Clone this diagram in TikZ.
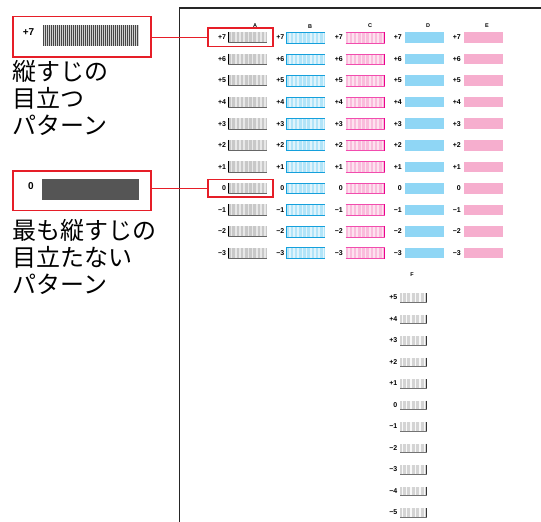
\documentclass[tikz,border=0pt]{standalone}
\usepackage{fontspec}
\newfontfamily\cjk{Noto Sans CJK JP}
\newfontfamily\lab{Liberation Sans}
\definecolor{redbox}{RGB}{230,30,40}
\definecolor{gA}{RGB}{200,200,200}
\definecolor{gAl}{RGB}{232,232,232}
\definecolor{bB}{RGB}{178,228,248}
\definecolor{bBl}{RGB}{224,244,252}
\definecolor{bBe}{RGB}{20,160,220}
\definecolor{pC}{RGB}{250,188,220}
\definecolor{pCl}{RGB}{253,226,239}
\definecolor{pCe}{RGB}{236,0,140}
\definecolor{bD}{RGB}{143,214,245}
\definecolor{pE}{RGB}{246,174,206}
\definecolor{gF}{RGB}{212,212,212}
\definecolor{darkpatch}{RGB}{85,85,85}
\tikzset{
  lbl/.style={font=\lab\bfseries\fontsize{7}{8}\selectfont, inner sep=0pt, anchor=east},
  hdr/.style={font=\lab\bfseries\fontsize{5.5}{6}\selectfont, inner sep=0pt},
  jp/.style={font=\cjk\fontsize{24}{27}\selectfont, inner sep=0pt, anchor=base west},
  hlbox/.style={draw=redbox, line width=1.8pt, inner sep=0pt},
  redline/.style={draw=redbox, line width=1.5pt},
  bigl/.style={font=\lab\bfseries\fontsize{10}{11}\selectfont, inner sep=0pt}
}
\begin{document}
\begin{tikzpicture}[x=1pt,y=-1pt]
\useasboundingbox (0,0) rectangle (541,522);
\fill[white] (0,0) rectangle (541,522);

% sheet frame
\draw[line width=1.5pt, black!85] (541,8) -- (179.5,8) -- (179.5,522);

% column headers
\node[hdr] (hA) at (255,26) {A};
\node[hdr] (hB) at (310,26.5) {B};
\node[hdr] (hC) at (370,26) {C};
\node[hdr] (hD) at (428,26) {D};
\node[hdr] (hE) at (487,26) {E};
\node[hdr] (hF) at (412,275) {F};

% rows A-E
\foreach \t [count=\i from 0] in {+7,+6,+5,+4,+3,+2,+1,0,−1,−2,−3} {
  \pgfmathsetmacro\yy{37.5+\i*21.55}
  % A
  \fill[gA] (228,\yy-5.5) rectangle (266.5,\yy+5.5);
  \foreach \k in {0,...,8} \fill[gAl] ({230.8+\k*4.2},\yy-5.5) rectangle ++(1.6,11);
  \draw[black, line width=1pt] (228.5,\yy-5.5) -- (228.5,\yy+5.5);
  \draw[black!60, line width=0.7pt] (228,\yy+5.2) -- (266.5,\yy+5.2);
  \node[lbl] (la\i) at (226.3,\yy) {\t};
  % B
  \fill[bB] (286,\yy-5.5) rectangle (325,\yy+5.5);
  \foreach \k in {0,...,8} \fill[bBl] ({289+\k*4.2},\yy-5.5) rectangle ++(1.6,11);
  \draw[bBe, line width=0.5pt] (286,\yy-5.3) -- (325,\yy-5.3);
  \draw[bBe, line width=0.5pt] (286,\yy+5.3) -- (325,\yy+5.3);
  \draw[bBe, line width=1.2pt] (286.6,\yy-5.5) -- (286.6,\yy+5.5);
  \node[lbl] (lb\i) at (284.5,\yy) {\t};
  % C
  \fill[pC] (345.5,\yy-5.5) rectangle (385,\yy+5.5);
  \foreach \k in {0,...,8} \fill[pCl] ({348+\k*4.2},\yy-5.5) rectangle ++(1.6,11);
  \draw[pCe!70, line width=0.5pt] (345.5,\yy-5.3) -- (385,\yy-5.3);
  \draw[pCe!70, line width=0.5pt] (345.5,\yy+5.3) -- (385,\yy+5.3);
  \draw[pCe, line width=1.2pt] (384.4,\yy-5.5) -- (384.4,\yy+5.5);
  \node[lbl] (lc\i) at (343,\yy) {\t};
  % D
  \fill[bD] (405,\yy-5.3) rectangle (444,\yy+5.3);
  \node[lbl] (ld\i) at (402,\yy) {\t};
  % E
  \fill[pE] (464,\yy-5.3) rectangle (503,\yy+5.3);
  \node[lbl] (le\i) at (461,\yy) {\t};
}

% column F
\foreach \t [count=\i from 0] in {+5,+4,+3,+2,+1,0,−1,−2,−3,−4,−5} {
  \pgfmathsetmacro\yy{297.5+\i*21.5}
  \fill[gF] (400,\yy-4.5) rectangle (427,\yy+4.5);
  \foreach \k in {0,...,5} \fill[white!85!gF] ({401.5+\k*4.4},\yy-4.5) rectangle ++(1.5,9);
  \draw[black!80, line width=0.9pt] (426.5,\yy-4.5) -- (426.5,\yy+4.5);
  \draw[black!55, line width=0.6pt] (400,\yy+4.3) -- (427,\yy+4.3);
  \node[lbl] (lf\i) at (397.5,\yy) {\t};
}

% highlight boxes on the sheet
\node[hlbox, minimum width=65pt, minimum height=18.5pt] (hl7) at (240.5,37.25) {};
\node[hlbox, minimum width=65pt, minimum height=17.5pt] (hl0) at (240.5,188.25) {};

% left callout boxes
\node[hlbox, minimum width=138pt, minimum height=40.5pt] (box1) at (82,36.75) {};
\node[hlbox, minimum width=138pt, minimum height=39.5pt] (box2) at (82,190.75) {};

% box1 content
\node[bigl] (b1l) at (28.5,32) {+7};
\fill[black!18] (43,25) rectangle (139,46);
\foreach \k in {0,...,47} \draw[line width=1pt, black!72] ({43.5+\k*2},25) -- ++(0,21);
% box2 content
\node[bigl] (b2l) at (31,186) {0};
\fill[darkpatch] (42,179) rectangle (139,200);

% connectors
\draw[redline] (box1.east |- hl7.west) -- (hl7.west);
\draw[redline] (box2.east |- hl0.west) -- (hl0.west);

% Japanese captions
\node[jp] (t1) at (12,80) {縦すじの};
\node[jp] (t2) at (12,107) {目立つ};
\node[jp] (t3) at (12,134) {パターン};
\node[jp] (t4) at (12,239) {最も縦すじの};
\node[jp] (t5) at (12,266) {目立たない};
\node[jp] (t6) at (12,293) {パターン};
\end{tikzpicture}
\end{document}
